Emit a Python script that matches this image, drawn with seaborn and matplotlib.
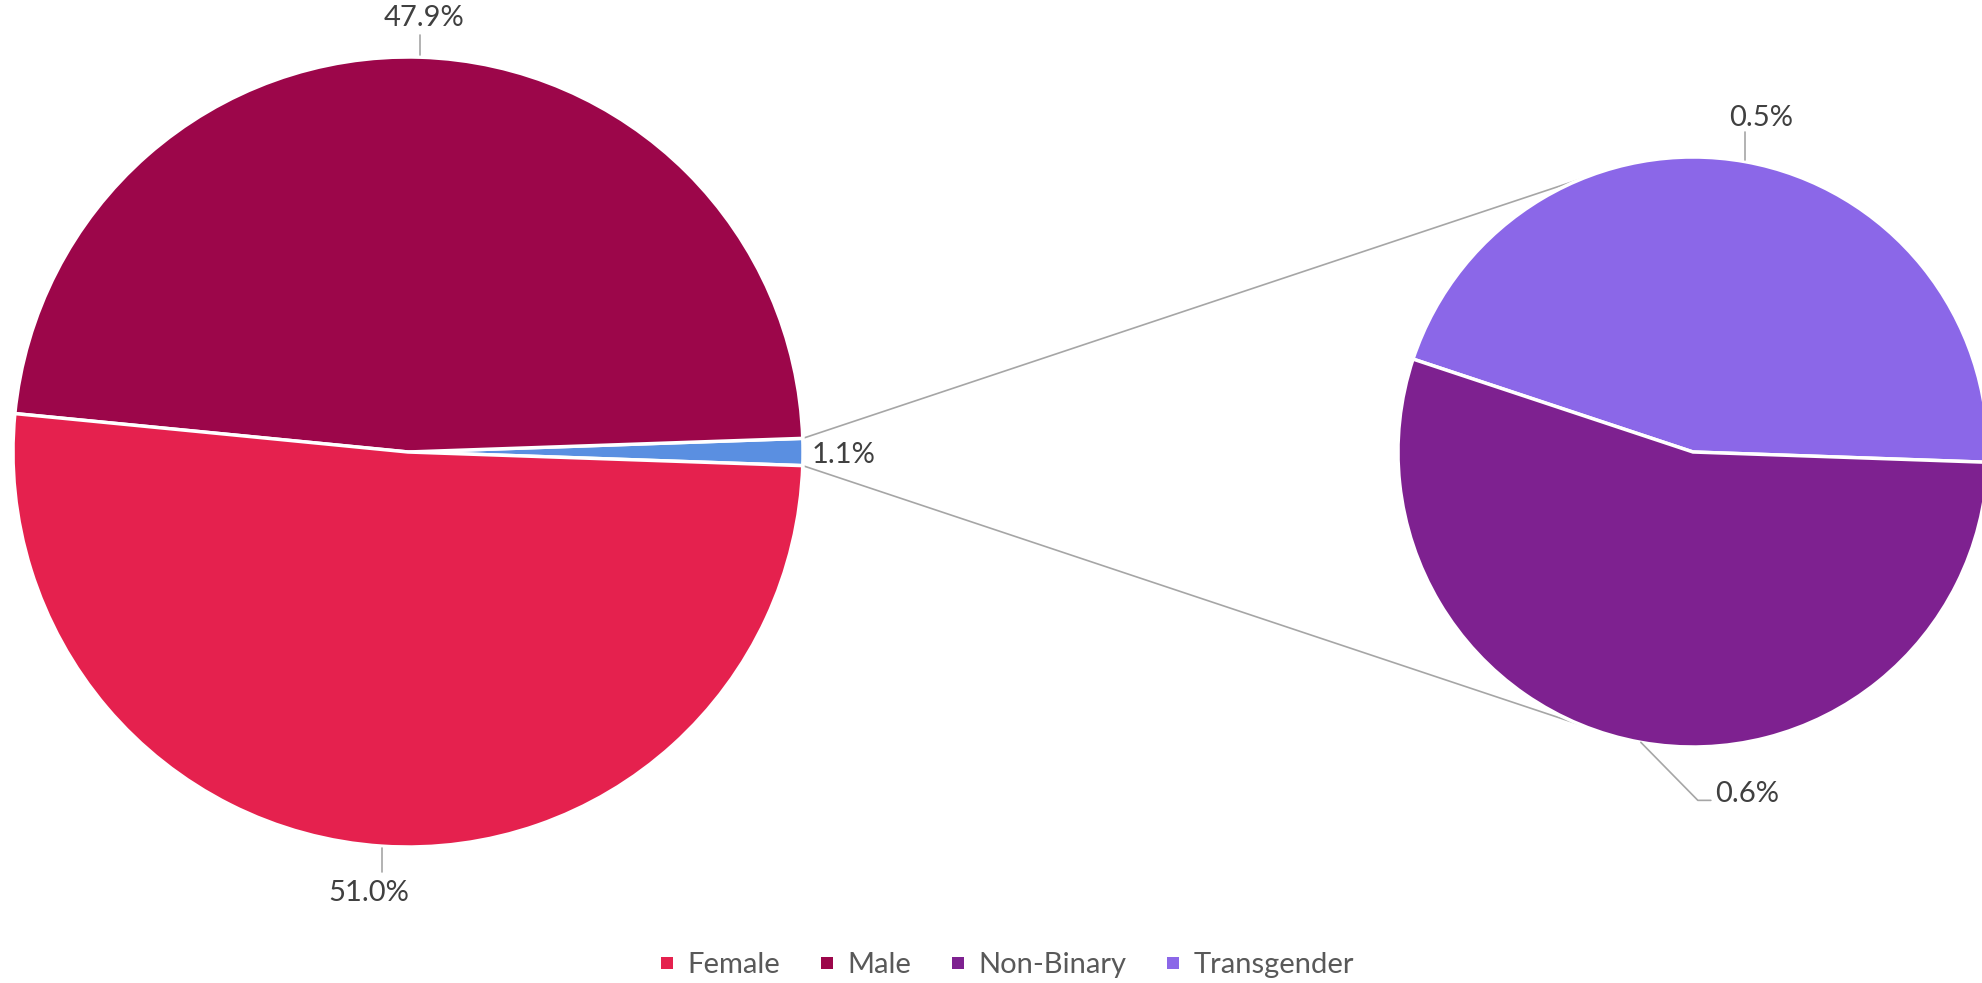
import numpy as np
import matplotlib
matplotlib.use("Agg")
import matplotlib.pyplot as plt
import seaborn as sns
from matplotlib.lines import Line2D

# ---- data ----
categories = ["Female", "Male", "Other"]
shares = [51.0, 47.9, 1.1]
sub_categories = ["Non-Binary", "Transgender"]
sub_shares = [0.6, 0.5]
legend_labels = ["Female", "Male", "Non-Binary", "Transgender"]

colors = {"Female": "#E5214E", "Male": "#9C064A", "Other": "#5A8FE1",
          "Non-Binary": "#7E2190", "Transgender": "#8B67E8"}

sns.set_theme(style="white")
plt.rcParams["font.family"] = ["Lato", "DejaVu Sans"]

W, H = 1982, 983
fig = plt.figure(figsize=(W / 100, H / 100), dpi=100)
ax = fig.add_axes([0, 0, 1, 1])


def P(x, y):
    return (x, H - y)


main_c = P(408, 452)
main_r = 395
sub_c = P(1693, 452)
sub_r = 295
wp = dict(edgecolor="white", linewidth=2.5)

# main pie: Other, Male, Female counter-clockwise, Other centred on 0 deg
order = categories[::-1]
vals = shares[::-1]
start = -shares[2] / 100 * 360 / 2
ax.pie(vals, colors=[colors[c] for c in order], startangle=start,
       center=main_c, radius=main_r, wedgeprops=wp, frame=True)

# secondary pie: Transgender then Non-Binary counter-clockwise
sub_order = sub_categories[::-1]
sub_vals = sub_shares[::-1]
sub_start = -2
ax.pie(sub_vals, colors=[colors[c] for c in sub_order], startangle=sub_start,
       center=sub_c, radius=sub_r, wedgeprops=wp, frame=True)


def on_circle(c, r, ang):
    a = np.deg2rad(ang)
    return c[0] + r * np.cos(a), c[1] + r * np.sin(a)


# connector lines
gray = "#A6A6A6"
top_ang = start + shares[2] / 100 * 360
for s in (1, -1):
    p0 = on_circle(main_c, main_r, s * top_ang)
    p1 = on_circle(sub_c, sub_r, s * 112)
    ax.plot([p0[0], p1[0]], [p0[1], p1[1]], color=gray, lw=1.2, zorder=0)

# mid angles
tot = sum(vals)
cum = start
mids = {}
for c, v in zip(order, vals):
    mids[c] = cum + v / tot * 360 / 2
    cum += v / tot * 360
stot = sum(sub_vals)
cum = sub_start
for c, v in zip(sub_order, sub_vals):
    mids[c] = cum + v / stot * 360 / 2
    cum += v / stot * 360

txt = dict(fontsize=21, color="#404040")

# Male label (above)
x, y = on_circle(main_c, main_r, mids["Male"])
ax.plot([x, x], [y + 2, y + 22], color=gray, lw=1.2)
ax.text(x + 4, y + 39, f"{shares[1]:.1f}%", ha="center", va="center", **txt)

# Female label (below)
x, y = on_circle(main_c, main_r, mids["Female"])
ax.plot([x, x], [y - 2, y - 26], color=gray, lw=1.2)
ax.text(x - 13, y - 47, f"{shares[0]:.1f}%", ha="center", va="center", **txt)

# Other label
x, y = on_circle(main_c, main_r, mids["Other"])
ax.text(x + 9, y - 3, f"{shares[2]:.1f}%", ha="left", va="center", **txt)

# Transgender label
x, y = on_circle(sub_c, sub_r, mids["Transgender"])
ax.plot([x, x], [y + 2, y + 30], color=gray, lw=1.2)
ax.text(x + 16, y + 44, f"{sub_shares[1]:.1f}%", ha="center", va="center", **txt)

# Non-Binary label
x, y = on_circle(sub_c, sub_r, mids["Non-Binary"])
ex, ey = x + 57, y - 58
ax.plot([x, ex, ex + 13], [y, ey, ey], color=gray, lw=1.2)
ax.text(ex + 17, ey + 6, f"{sub_shares[0]:.1f}%", ha="left", va="center", **txt)

ax.set_xlim(0, W)
ax.set_ylim(0, H)
ax.set_aspect("auto")
ax.axis("off")

handles = [Line2D([], [], marker="s", linestyle="", markersize=8,
                  markerfacecolor=colors[c], markeredgewidth=0) for c in legend_labels]
fig.legend(handles, legend_labels, loc="center", bbox_to_anchor=(1007 / W, 1 - 965 / H),
           ncol=4, frameon=False, fontsize=21, labelcolor="#595959",
           handlelength=0.5, handletextpad=0.45, columnspacing=1.35)

fig.savefig("out.png", dpi=100)
